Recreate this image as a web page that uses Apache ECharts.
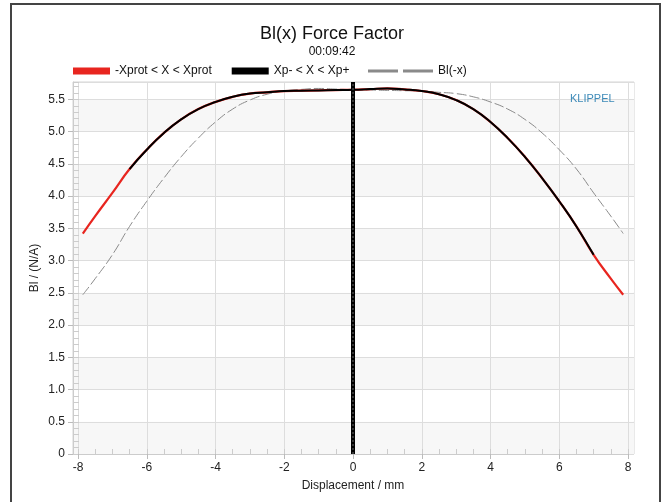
<!DOCTYPE html>
<html>
<head>
<meta charset="utf-8">
<script src="https://cdn.jsdelivr.net/npm/echarts@6/dist/echarts.min.js"></script>
<style>html,body{margin:0;padding:0;background:#fff;}#c{width:664px;height:502px;}</style>
</head>
<body>
<div id="c"></div>
<script>
// ---- data ----
const displacement = [-7.86,-7.5,-7,-6.5,-6,-5.5,-5,-4.5,-4,-3.5,-3,-2.5,-2,-1.5,-1,-0.5,0,0.5,1,1.5,2,2.5,3,3.5,4,4.5,5,5.5,6,6.5,7,7.5,7.86];
const blValues     = [3.42,3.69,4.05,4.42,4.72,4.98,5.19,5.35,5.46,5.54,5.59,5.61,5.63,5.635,5.64,5.645,5.65,5.66,5.67,5.655,5.63,5.58,5.49,5.35,5.15,4.90,4.61,4.28,3.92,3.53,3.09,2.72,2.47];
const xpMinus = -6.5;
const xpPlus = 7.0;
const markerX = 0;
const yMax = 5.77;
const seriesNames = ['-Xprot < X < Xprot', 'Xp- < X < Xp+', 'Bl(-x)'];

// ---- derived series ----
const redData = displacement.map((x, i) => [x, blValues[i]]);
const blackData = displacement.map((x, i) => [x, blValues[i]]).filter(p => p[0] >= xpMinus && p[0] <= xpPlus);
const mirrorData = displacement.map((x, i) => [-x, blValues[i]]).reverse();
const markerData = [[markerX, 0], [markerX, yMax]];

const chart = echarts.init(document.getElementById('c'), null, {renderer: 'canvas'});
const font = 'Liberation Sans, Arial, sans-serif';
chart.setOption({
  animation: false,
  textStyle: {fontFamily: font},
  title: {
    text: 'Bl(x) Force Factor',
    subtext: '00:09:42',
    left: 'center',
    top: 20,
    padding: [5, 0, 5, 22],
    itemGap: 3,
    textStyle: {fontSize: 18, fontWeight: 'normal', color: '#111', fontFamily: font},
    subtextStyle: {fontSize: 12, color: '#111', fontFamily: font}
  },
  legend: [
    {
      data: [seriesNames[0], seriesNames[1]],
      icon: 'rect', itemWidth: 37, itemHeight: 7, itemGap: 20,
      left: 68, top: 60,
      textStyle: {fontSize: 12, color: '#111', fontFamily: font}
    },
    {
      data: [seriesNames[2]],
      icon: 'path://M0,0H30V3H0Z M35,0H65V3H35Z', itemWidth: 65, itemHeight: 3,
      left: 363, top: 60,
      textStyle: {fontSize: 12, color: '#111', fontFamily: font}
    }
  ],
  grid: [
    {left: 73, right: 30, top: 82, bottom: 48, show: true, borderColor: '#d4d4d4', borderWidth: 1, backgroundColor: 'transparent'},
    {left: 78, right: 36, top: 82, bottom: 48}
  ],
  xAxis: [
    {gridIndex: 0, type: 'value', min: 0, max: 1, show: false},
    {gridIndex: 1, type: 'value', position: 'bottom', min: -8, max: 8, interval: 2,
     axisLine: {show: true, lineStyle: {color: '#cccccc'}},
     axisTick: {show: true, length: 5, lineStyle: {color: '#bbbbbb'}},
     axisLabel: {fontSize: 12, color: '#222', margin: 8, fontFamily: font},
     splitLine: {show: true, lineStyle: {color: '#dddddd'}},
     name: 'Displacement / mm', nameLocation: 'middle', nameGap: 26,
     nameTextStyle: {fontSize: 12, color: '#222', fontFamily: font}},
    {gridIndex: 1, type: 'value', position: 'bottom', min: -8, max: 8, interval: 0.5,
     axisLine: {show: false}, axisLabel: {show: false}, splitLine: {show: false},
     axisTick: {show: true, inside: true, length: 5, lineStyle: {color: '#cccccc'}}}
  ],
  yAxis: [
    {gridIndex: 0, type: 'value', position: 'left', min: 0, max: yMax, interval: 0.5,
     axisLine: {show: true, lineStyle: {color: '#cccccc'}},
     axisTick: {show: true, length: 5, lineStyle: {color: '#bbbbbb'}},
     axisLabel: {fontSize: 12, color: '#222', margin: 8, fontFamily: font, showMaxLabel: false,
       formatter: v => v === 0 ? '0' : v.toFixed(1)},
     splitLine: {show: true, lineStyle: {color: '#dddddd'}},
     splitArea: {show: true, areaStyle: {color: ['#f7f7f7', '#ffffff']}},
     name: 'Bl / (N/A)', nameLocation: 'middle', nameGap: 32, nameMoveOverlap: false,
     nameTextStyle: {fontSize: 12, color: '#222', fontFamily: font}},
    {gridIndex: 0, type: 'value', position: 'left', min: 0, max: yMax, interval: 0.1,
     axisLine: {show: false}, axisLabel: {show: false}, splitLine: {show: false},
     axisTick: {show: true, inside: true, length: 6, lineStyle: {color: '#cccccc'}}},
    {gridIndex: 1, type: 'value', position: 'left', min: 0, max: yMax, show: false}
  ],
  series: [
    {name: seriesNames[2], type: 'line', xAxisIndex: 1, yAxisIndex: 2, data: mirrorData,
     showSymbol: false, symbol: 'none', smooth: 0.5, color: '#8a8a8a',
     lineStyle: {color: '#8a8a8a', width: 1, type: [10, 3]}, z: 2},
    {name: seriesNames[0], type: 'line', xAxisIndex: 1, yAxisIndex: 2, data: redData,
     showSymbol: false, symbol: 'none', smooth: 0.5, color: '#e8251f',
     lineStyle: {color: '#e8251f', width: 2.2}, z: 3},
    {name: seriesNames[1], type: 'line', xAxisIndex: 1, yAxisIndex: 2, data: blackData,
     showSymbol: false, symbol: 'none', smooth: 0.5, color: '#000000',
     lineStyle: {color: '#000000', width: 2}, z: 4},
    {name: 'marker', type: 'line', xAxisIndex: 1, yAxisIndex: 2, data: markerData,
     showSymbol: false, symbol: 'none', silent: true,
     lineStyle: {color: '#000000', width: 4}, z: 5},
    {name: 'marker2', type: 'line', xAxisIndex: 1, yAxisIndex: 2, data: markerData,
     showSymbol: false, symbol: 'none', silent: true,
     lineStyle: {color: '#666666', width: 1, type: [2, 2]}, z: 6}
  ],
  graphic: [
    {type: 'rect', shape: {x: 11, y: 4, width: 649, height: 600}, silent: true,
     style: {fill: 'none', stroke: '#444444', lineWidth: 2}, z: 10},
    {type: 'text', x: 570, y: 93, silent: true,
     style: {text: 'KLIPPEL', fill: '#3d8ab8', fontSize: 11, fontFamily: font}, z: 10}
  ]
});
</script>
</body>
</html>
